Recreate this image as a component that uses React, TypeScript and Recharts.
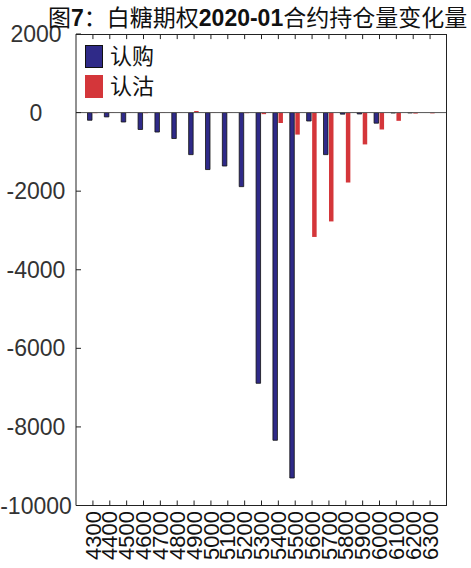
import React from 'react';
import { BarChart, Bar, XAxis, YAxis, ReferenceLine } from 'recharts';

const strikes = ['4300', '4400', '4500', '4600', '4700', '4800', '4900', '5000', '5100', '5200', '5300', '5400', '5500', '5600', '5700', '5800', '5900', '6000', '6100', '6200', '6300'];
const callOiChange = [-195, -110, -240, -430, -495, -660, -1070, -1450, -1360, -1885, -6890, -8340, -9300, -215, -1070, -40, -35, -270, -10, -8, 0];
const putOiChange = [-15, -10, -10, -15, -10, -10, 40, -10, -10, -15, -40, -265, -560, -3165, -2770, -1780, -810, -430, -210, -25, -20];
const yTicks = [2000, 0, -2000, -4000, -6000, -8000, -10000];
const seriesNames = ['认购', '认沽'];
const seriesColors = ['#2F2A88', '#D4363A'];

const data = strikes.map((s, i) => ({ strike: s, call: callOiChange[i], put: putOiChange[i] }));

const FONT = '"Liberation Sans", Arial, "Noto Sans CJK SC", sans-serif';

const PLOT = { left: 76, top: 34, right: 447, bottom: 505.5 };

const YTick = (props: any) => {
  const { y, payload } = props;
  return (
    <text x={36} y={y} dy="0.35em" textAnchor="middle" fontSize={23} fill="#333" fontFamily={FONT}>
      {payload.value}
    </text>
  );
};

const XTick = (props: any) => {
  const { x, payload } = props;
  const ty = 511;
  return (
    <text
      x={x}
      y={ty}
      dy="0.35em"
      textAnchor="end"
      transform={`rotate(-90, ${x}, ${ty})`}
      fontSize={22}
      fill="#111"
      fontFamily={FONT}
    >
      {payload.value}
    </text>
  );
};

export default function App() {
  return (
    <div style={{ position: 'absolute', left: 0, top: 0, width: 471, height: 568, background: '#fff' }}>
      <BarChart
        width={471}
        height={568}
        data={data}
        margin={{ top: PLOT.top, right: 471 - PLOT.right, left: 0, bottom: 0 }}
        barSize={4.5}
        barGap={1}
      >
        <XAxis
          xAxisId="b"
          dataKey="strike"
          orientation="bottom"
          height={568 - PLOT.bottom}
          padding={{ left: 8.5, right: 8.5 }}
          interval={0}
          tickSize={-5}
          tickMargin={0}
          tick={<XTick />}
          axisLine={{ stroke: '#222', strokeWidth: 1 }}
          tickLine={{ stroke: '#222' }}
        />
        <YAxis
          yAxisId="l"
          orientation="left"
          width={PLOT.left}
          domain={[-10000, 2000]}
          ticks={yTicks}
          interval={0}
          tickSize={-5}
          tick={<YTick />}
          axisLine={{ stroke: '#222', strokeWidth: 1 }}
          tickLine={{ stroke: '#222' }}
        />
        {strikes.map((s) => (
          <ReferenceLine
            key={`tt-${s}`}
            xAxisId="b"
            yAxisId="l"
            ifOverflow="visible"
            segment={[{ x: s, y: 2000 }, { x: s, y: 1870 }]}
            stroke="#222"
            strokeWidth={1}
          />
        ))}
        <ReferenceLine xAxisId="b" yAxisId="l" y={0} stroke="#555" strokeWidth={1} />
        <Bar
          xAxisId="b"
          yAxisId="l"
          dataKey="call"
          name={seriesNames[0]}
          fill={seriesColors[0]}
          stroke="#111"
          strokeWidth={0.8}
          isAnimationActive={false}
        />
        <Bar
          xAxisId="b"
          yAxisId="l"
          dataKey="put"
          name={seriesNames[1]}
          fill={seriesColors[1]}
          isAnimationActive={false}
        />
      </BarChart>
      <svg width={471} height={568} style={{ position: 'absolute', left: 0, top: 0, pointerEvents: 'none' }}>
        <line x1={PLOT.left} y1={PLOT.top + 0.5} x2={PLOT.right} y2={PLOT.top + 0.5} stroke="#222" strokeWidth={1} />
        <line x1={PLOT.right - 0.5} y1={PLOT.top} x2={PLOT.right - 0.5} y2={PLOT.bottom} stroke="#222" strokeWidth={1} />
        <text x={48} y={26} fontSize={23} fill="#111" fontFamily={FONT}>
          <tspan>图</tspan>
          <tspan fontWeight="bold">7</tspan>
          <tspan>：白糖期权</tspan>
          <tspan fontWeight="bold">2020-01</tspan>
          <tspan>合约持仓量变化量</tspan>
        </text>
      </svg>
      <div style={{ position: 'absolute', left: 85, top: 45, fontFamily: FONT, fontSize: 22, color: '#111' }}>
        {seriesNames.map((n, i) => (
          <div key={n} style={{ display: 'flex', alignItems: 'center', height: 23, marginBottom: 7 }}>
            <div
              style={{
                width: i === 0 ? 16 : 18,
                height: i === 0 ? 21 : 23,
                background: seriesColors[i],
                border: i === 0 ? '1px solid #111' : 'none',
                marginRight: 7,
              }}
            />
            <span style={{ lineHeight: '23px' }}>{n}</span>
          </div>
        ))}
      </div>
    </div>
  );
}
